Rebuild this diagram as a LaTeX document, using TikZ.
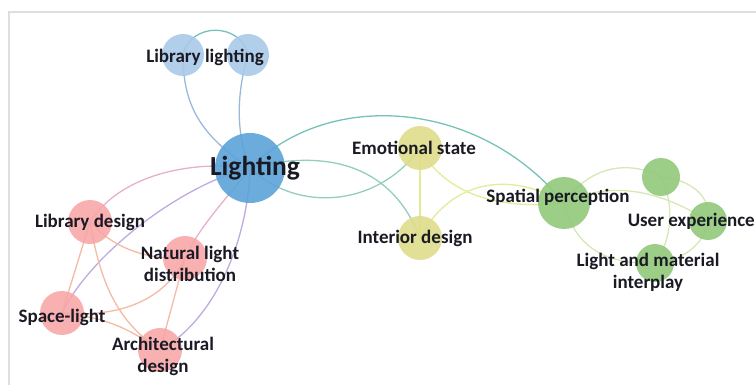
\documentclass[tikz,border=0pt]{standalone}
\usepackage{fontspec}
\setmainfont{Carlito}
\usetikzlibrary{backgrounds}
\definecolor{txt}{HTML}{1A1A24}
\definecolor{frm}{HTML}{DEDEDE}
\definecolor{lblue}{HTML}{A8C9E8}
\definecolor{dblue}{HTML}{5BA3D9}
\definecolor{yel}{HTML}{DEDD8B}
\definecolor{grn}{HTML}{92C97B}
\definecolor{pnk}{HTML}{F7A7A8}
\definecolor{eblue}{HTML}{9AB8DC}
\definecolor{eteal}{HTML}{76C2B8}
\definecolor{eteal2}{HTML}{92CEBE}
\definecolor{eyel}{HTML}{E0EC98}
\definecolor{egrn}{HTML}{D6E8B4}
\definecolor{epur}{HTML}{BFAAE0}
\definecolor{epink}{HTML}{E6B0CC}
\definecolor{esal}{HTML}{F4BAA4}
\begin{document}
\begin{tikzpicture}[x=1pt,y=-1pt,
  bub/.style={circle,inner sep=0pt,draw=none,fill opacity=0.9,minimum size=#1},
  lbl/.style={inner sep=0pt,align=center,text=txt,font=\fontsize{19}{22}\selectfont\bfseries},
  lnk/.style={line width=1.3pt,draw=#1}]
\useasboundingbox (0,0) rectangle (756,385);
% circles
\node[bub=42,fill=lblue] (A) at (183,55) {};
\node[bub=42,fill=lblue] (B) at (248,55) {};
\node[bub=70,fill=dblue] (L) at (250,168) {};
\node[bub=44,fill=yel] (ES) at (420,148) {};
\node[bub=44,fill=yel] (ID) at (420,238) {};
\node[bub=52,fill=grn] (SP) at (564,203) {};
\node[bub=38,fill=grn] (T) at (661,177) {};
\node[bub=38,fill=grn] (UE) at (708,221) {};
\node[bub=38,fill=grn] (LM) at (655,263) {};
\node[bub=44,fill=pnk] (LD) at (90,222) {};
\node[bub=44,fill=pnk] (NL) at (185,258) {};
\node[bub=44,fill=pnk] (SL) at (62,313) {};
\node[bub=44,fill=pnk] (AD) at (160,350) {};
\begin{pgfonlayer}{background}
\draw[frm,line width=1.6pt] (9,385) -- (9,12) -- (756,12);
% blue
\draw[lnk=eteal] (A.center) .. controls (190,22) and (241,22) .. (B.center);
\draw[lnk=eblue] (A.center) .. controls (183,105) and (200,135) .. (L.center);
\draw[lnk=eblue] (B.center) .. controls (236,95) and (236,135) .. (L.center);
% lighting to right
\draw[lnk=eteal] (L.center) .. controls (330,88) and (480,100) .. (SP.center);
\draw[lnk=eteal2] (L.center) .. controls (320,150) and (390,160) .. (ID.center);
\draw[lnk=eteal2] (L.center) .. controls (300,215) and (380,205) .. (ES.center);
% yellow
\draw[lnk=eyel] (ES.center) -- (ID.center);
\draw[lnk=eyel] (ES.center) .. controls (445,195) and (500,210) .. (SP.center);
\draw[lnk=eyel] (ID.center) .. controls (450,180) and (510,170) .. (SP.center);
% green
\draw[lnk=egrn] (SP.center) .. controls (590,165) and (630,160) .. (T.center);
\draw[lnk=egrn] (SP.center) .. controls (610,180) and (660,190) .. (UE.center);
\draw[lnk=egrn] (T.center) .. controls (695,180) and (712,200) .. (UE.center);
\draw[lnk=egrn] (T.center) .. controls (675,205) and (672,240) .. (LM.center);
\draw[lnk=egrn] (SP.center) .. controls (575,250) and (610,265) .. (LM.center);
\draw[lnk=egrn] (UE.center) .. controls (705,245) and (680,262) .. (LM.center);
% lighting to left
\draw[lnk=epink] (L.center) .. controls (190,160) and (120,175) .. (LD.center);
\draw[lnk=epur] (L.center) .. controls (180,185) and (90,255) .. (SL.center);
\draw[lnk=epink] (L.center) .. controls (230,195) and (200,225) .. (NL.center);
\draw[lnk=epur] (L.center) .. controls (248,240) and (215,320) .. (AD.center);
% pink
\draw[lnk=esal] (LD.center) .. controls (115,250) and (150,260) .. (NL.center);
\draw[lnk=esal] (LD.center) -- (SL.center);
\draw[lnk=esal] (LD.center) .. controls (100,280) and (115,320) .. (AD.center);
\draw[lnk=esal] (NL.center) .. controls (165,300) and (120,318) .. (SL.center);
\draw[lnk=esal] (NL.center) -- (AD.center);
\draw[lnk=esal] (SL.center) .. controls (110,318) and (130,330) .. (AD.center);
\end{pgfonlayer}
% labels
\node[lbl] (tA) at (205,57) {Library lighting};
\node[lbl,font=\fontsize{27.5}{30}\selectfont\bfseries] (tL) at (255,168) {Lighting};
\node[lbl] (tES) at (414,148) {Emotional state};
\node[lbl] (tID) at (415,238) {Interior design};
\node[lbl] (tSP) at (558,197) {Spatial perception};
\node[lbl,anchor=east] (tUE) at (755,221) {User experience};
\node[lbl] (tLM) at (648,272) {Light and material\\interplay};
\node[lbl] (tLD) at (90,222) {Library design};
\node[lbl] (tNL) at (190,264) {Natural light\\distribution};
\node[lbl] (tSL) at (62,317) {Space-light};
\node[lbl] (tAD) at (163,356) {Architectural\\design};
\end{tikzpicture}
\end{document}
